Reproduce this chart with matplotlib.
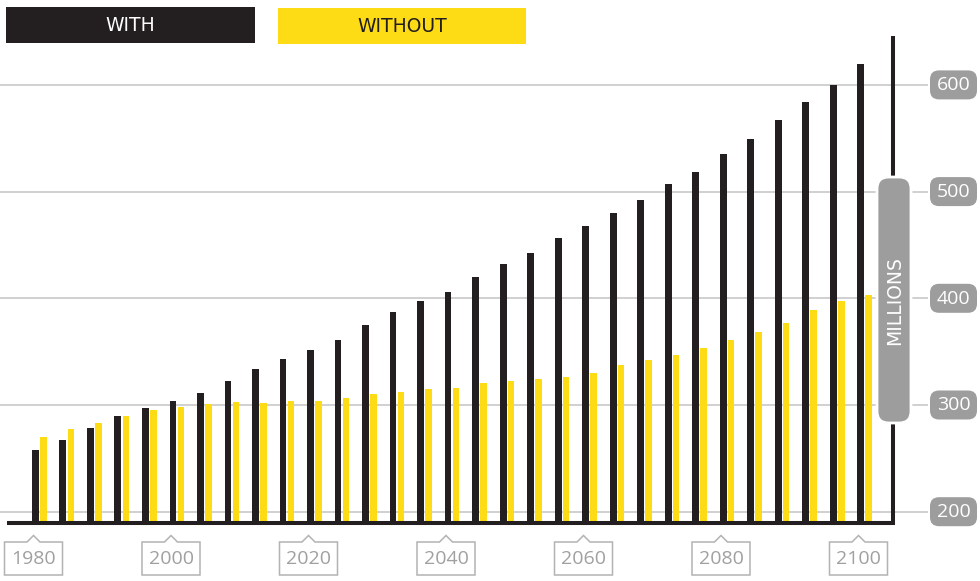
import matplotlib
matplotlib.use("Agg")
import matplotlib.pyplot as plt
import numpy as np
from matplotlib.patches import FancyBboxPatch, Polygon, Rectangle
from matplotlib.transforms import Affine2D
from matplotlib.lines import Line2D

# ---------------- data ----------------
years = list(range(1980, 2101, 4))
with_vals = [257.8, 267.2, 278.2, 290.0, 297.2, 303.5, 311.0, 322.5, 333.7, 343.1,
             351.3, 360.9, 374.7, 386.9, 397.2, 405.9, 420.0, 431.9, 442.2, 456.2,
             467.8, 479.5, 492.4, 507.1, 518.1, 535.2, 549.0, 566.8, 584.3, 600.2, 620.0]
without_vals = [270.0, 277.5, 283.4, 290.0, 295.0, 298.4, 301.0, 302.8, 301.6, 303.5,
                304.0, 306.3, 310.0, 312.5, 314.7, 316.2, 320.3, 322.2, 324.4, 326.2,
                330.3, 337.2, 342.5, 347.2, 353.1, 360.6, 368.7, 376.9, 389.0, 397.5, 402.8]
y_ticks = [200, 300, 400, 500, 600]
x_label_years = [1980, 2000, 2020, 2040, 2060, 2080, 2100]
series_names = ["WITH", "WITHOUT"]
axis_title = "MILLIONS"
baseline_value = 189.4

# ---------------- style ----------------
BLACK = "#231f20"
YELLOW = "#fddb15"
GRID = "#c4c4c4"
PILL = "#9d9d9d"
LBL_EDGE = "#b3b3b3"
LBL_TEXT = "#a0a0a0"
plt.rcParams['font.family'] = ['Open Sans', 'DejaVu Sans']
CAPS_FONT = ['DejaVu Sans']

W, H, DPI = 980, 581, 100
fig = plt.figure(figsize=(W / DPI, H / DPI), dpi=DPI)
ax = fig.add_axes([0, 0, 1, 1])
ax.axis('off')

# scale: 6.875 px per year, 1.067 px per million
PX_PER_YEAR = 6.875
PX_PER_UNIT = 1.067
ax.set_xlim(1980 - 33.5 / PX_PER_YEAR, 1980 + (W - 33.5) / PX_PER_YEAR)
ax.set_ylim(200 - (H - 511.7) / PX_PER_UNIT, 200 + 511.7 / PX_PER_UNIT)

# pixel transform (top-left origin)
PX = Affine2D().scale(1, -1).translate(0, H).scale(1.0 / DPI) + fig.dpi_scale_trans


def to_px(x, y):
    d = ax.transData.transform((x, y))
    return d[0], H - d[1]


def px_to_x(px):
    return ax.transData.inverted().transform((px, 0))[0]


# gridlines
grid_end = px_to_x(928)
for t in y_ticks:
    ax.plot([ax.get_xlim()[0], grid_end], [t, t], color=GRID, lw=1.1, zorder=1,
            solid_capstyle='butt')

# bars
yrs = np.array(years, dtype=float)
bw = 7.0 / PX_PER_YEAR
ax.bar(yrs - 1.5 / PX_PER_YEAR, np.array(with_vals) - baseline_value, width=bw,
       bottom=baseline_value, align='edge', color=BLACK, zorder=3, linewidth=0)
ax.bar(yrs + 6.5 / PX_PER_YEAR, np.array(without_vals) - baseline_value, width=bw,
       bottom=baseline_value, align='edge', color=YELLOW, zorder=3, linewidth=0)

# baseline and vertical axis line
_, base_py = to_px(1980, baseline_value)
fig.add_artist(Line2D([7, 895], [base_py, base_py], transform=PX, color=BLACK,
                      lw=2.9, solid_capstyle='butt', zorder=4))
fig.add_artist(Line2D([893, 893], [36, base_py + 1.5], transform=PX, color=BLACK,
                      lw=2.9, solid_capstyle='butt', zorder=4))

# axis title pill
fig.add_artist(FancyBboxPatch((877, 177), 34, 246, boxstyle="round,pad=0,rounding_size=12",
                              transform=PX, fc=PILL, ec='white', lw=2.0, zorder=5))
fig.text(894.5 / W, 1 - 301 / H, axis_title, rotation=90, color='white', fontsize=13.5,
         family=CAPS_FONT, ha='center', va='center', zorder=6)

# right tick pills
for t in y_ticks:
    _, py = to_px(2100, t)
    fig.add_artist(FancyBboxPatch((930, py - 14.5), 47, 29,
                                  boxstyle="round,pad=0,rounding_size=9",
                                  transform=PX, fc=PILL, ec='none', zorder=5))
    fig.text(953.5 / W, 1 - (py + 0.5) / H, str(t), color='white', fontsize=14,
             ha='center', va='center', zorder=6)

# year label boxes with notch
for yr in x_label_years:
    cx, _ = to_px(yr, baseline_value)
    pts = [(cx - 29, 542), (cx - 6.5, 542), (cx, 535.5), (cx + 6.5, 542), (cx + 29, 542),
           (cx + 29, 575), (cx - 29, 575)]
    fig.add_artist(Polygon(pts, closed=True, transform=PX, fc='white', ec=LBL_EDGE,
                           lw=1.1, zorder=5))
    fig.text(cx / W, 1 - 559 / H, str(yr), color=LBL_TEXT, fontsize=14,
             ha='center', va='center', zorder=6)

# legend boxes
fig.add_artist(Rectangle((6, 7), 249, 36, transform=PX, fc=BLACK, ec='none', zorder=5))
fig.text(130.5 / W, 1 - 25.5 / H, series_names[0], color='white', fontsize=13.5,
         family=CAPS_FONT, ha='center', va='center', zorder=6)
fig.add_artist(Rectangle((278, 8), 248, 36, transform=PX, fc=YELLOW, ec='none', zorder=5))
fig.text(402 / W, 1 - 26.5 / H, series_names[1], color=BLACK, fontsize=13.5,
         family=CAPS_FONT, ha='center', va='center', zorder=6)

fig.savefig("out.png", dpi=DPI)
